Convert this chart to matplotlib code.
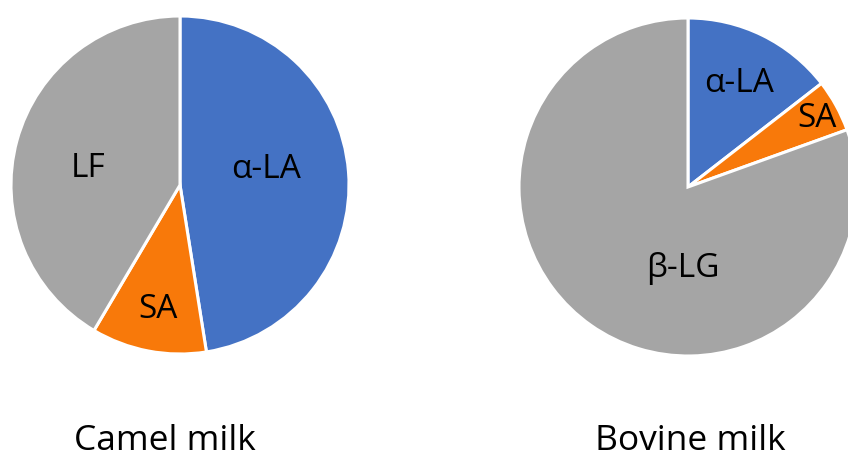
import numpy as np
import matplotlib
matplotlib.use('Agg')
import matplotlib.pyplot as plt

plt.rcParams['font.family'] = ['Open Sans', 'Noto Sans', 'DejaVu Sans']

# whey protein shares (%)
camel_labels = ['α-LA', 'SA', 'LF']
camel_values = [47.5, 11.0, 41.5]
bovine_labels = ['α-LA', 'SA', 'β-LG']
bovine_values = [14.5, 5.0, 80.5]

colors = ['#4472C4', '#F8790A', '#A5A5A5']

W, H = 848, 460
R = 169  # pie radius in pixels


def draw_pie(center, values, labels, label_pos, title, title_x):
    cx, cy = center
    ax = fig.add_axes([(cx - R) / W, (H - cy - R) / H, 2 * R / W, 2 * R / H])
    ax.pie(values, colors=colors, startangle=90, counterclock=False,
           wedgeprops=dict(edgecolor='white', linewidth=2.2))
    ax.set_xlim(-1, 1)
    ax.set_ylim(-1, 1)
    ax.set_aspect('equal')
    ax.axis('off')
    # labels sit inside the wedges, given as (radius fraction, angle in degrees)
    for lab, (r, a) in zip(labels, label_pos):
        t = np.radians(a)
        ax.text(r * np.cos(t), r * np.sin(t), lab, ha='center', va='center',
                fontsize=24, color='black')
    fig.text(title_x / W, 1 - 441 / H, title, ha='center', va='center',
             fontsize=25.5, color='black')


fig = plt.figure(figsize=(W / 100, H / 100), dpi=100)
fig.patch.set_facecolor('white')

draw_pie((180, 186), camel_values, camel_labels,
         [(0.52, 10.5), (0.745, -100), (0.555, 169)], 'Camel milk', 165)
draw_pie((688, 188), bovine_values, bovine_labels,
         [(0.69, 64), (0.87, 28.3), (0.475, -93.6)], 'Bovine milk', 690)

fig.savefig('out.png', dpi=100, facecolor='white')
